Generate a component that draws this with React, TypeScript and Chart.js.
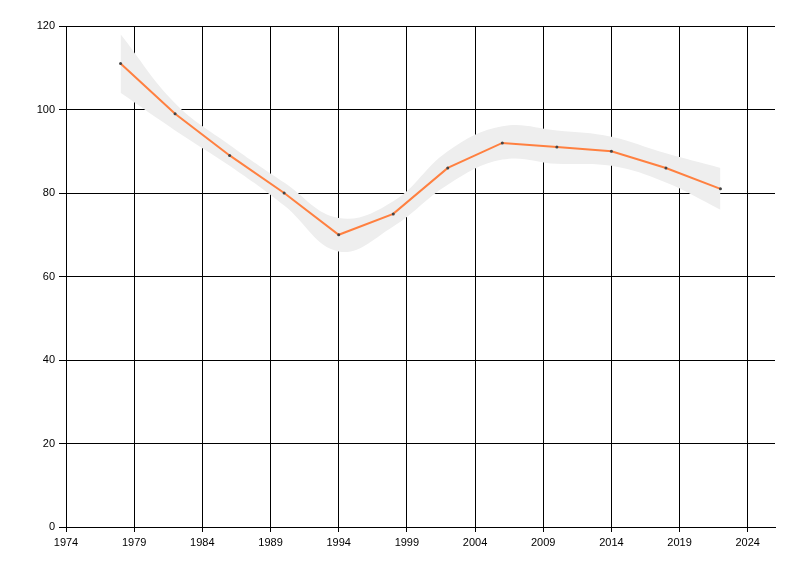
import React, { useEffect, useRef } from "react";
import { Chart, registerables } from "chart.js";

Chart.register(...registerables);

const years = [1978, 1982, 1986, 1990, 1994, 1998, 2002, 2006, 2010, 2014, 2018, 2022];
const values = [111, 99, 89, 80, 70, 75, 86, 92, 91, 90, 86, 81];
const upper = [118, 101.5, 91.5, 82.5, 74, 78, 90, 96, 95, 93.5, 89.5, 86];
const lower = [104, 95, 86.5, 77, 66, 72, 82, 88, 87, 86.5, 82.5, 76];
const xTicks = [1974, 1979, 1984, 1989, 1994, 1999, 2004, 2009, 2014, 2019, 2024];
const yTicks = [0, 20, 40, 60, 80, 100, 120];

export default function App() {
  const ref = useRef<HTMLCanvasElement | null>(null);
  useEffect(() => {
    if (!ref.current) return;
    const pts = (ys: number[]) => years.map((x, i) => ({ x, y: ys[i] }));
    const font = { family: "'Liberation Sans', Arial, sans-serif", size: 11 };
    const chart = new Chart(ref.current, {
      type: "line",
      data: {
        datasets: [
          {
            data: pts(upper),
            borderWidth: 0,
            borderColor: "rgba(0,0,0,0)",
            backgroundColor: "#eeeeee",
            pointRadius: 0,
            tension: 0.4,
            fill: "+1",
            order: 2,
          },
          {
            data: pts(lower),
            borderWidth: 0,
            borderColor: "rgba(0,0,0,0)",
            backgroundColor: "#eeeeee",
            pointRadius: 0,
            tension: 0.4,
            fill: false,
            order: 1,
          },
          {
            data: pts(values),
            borderColor: "rgb(255,128,64)",
            borderWidth: 2,
            pointRadius: 1.5,
            pointBackgroundColor: "#444",
            pointBorderWidth: 0,
            tension: 0,
            fill: false,
            order: -1,
          },
        ],
      },
      options: {
        animation: false,
        responsive: false,
        layout: { padding: { left: 0, top: 26, right: 25, bottom: 0 } },
        plugins: {
          legend: { display: false },
          tooltip: { enabled: false },
        },
        scales: {
          x: {
            type: "linear",
            min: 1974,
            max: 2026,
            afterBuildTicks: (s: any) => {
              s.ticks = xTicks.map((v) => ({ value: v }));
            },
            afterFit: (s: any) => {
              s.height = 49;
            },
            grid: { color: "#000", lineWidth: 1, tickLength: 5, drawTicks: true },
            border: { color: "#000", width: 1 },
            ticks: { color: "#000", font, padding: 4, maxRotation: 0, autoSkip: false, callback: (v: any) => String(v) },
          },
          y: {
            type: "linear",
            min: 0,
            max: 120,
            afterBuildTicks: (s: any) => {
              s.ticks = yTicks.map((v) => ({ value: v }));
            },
            afterFit: (s: any) => {
              s.width = 66;
            },
            grid: { color: "#000", lineWidth: 1, tickLength: 7, drawTicks: true },
            border: { color: "#000", width: 1 },
            ticks: { color: "#000", font, padding: 4, autoSkip: false },
          },
        },
      },
    });
    return () => chart.destroy();
  }, []);
  return (
    <div style={{ position: "fixed", left: 0, top: 0, width: 800, height: 576, background: "#fff" }}>
      <canvas ref={ref} width={800} height={576} style={{ width: 800, height: 576 }} />
    </div>
  );
}
